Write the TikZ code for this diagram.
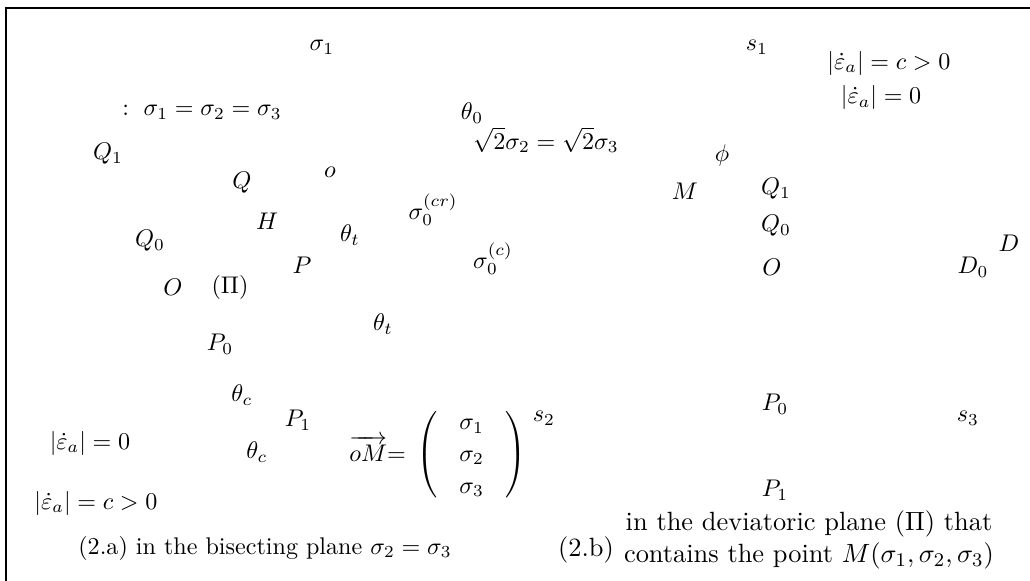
\documentclass[tikz,border=0pt]{standalone}
\usepackage{amsmath,amssymb}
\usetikzlibrary{positioning}

\begin{document}
\begin{tikzpicture}[x=0.415pt, y=-0.415pt, node distance=4pt, every node/.style={inner sep=0pt, font=\normalsize}]
    \useasboundingbox (0,0) rectangle (1030,580);
    % Rahmen (rechts und unten abgeschnitten)
    \draw[line width=0.8pt] (6,600) -- (6,8) -- (1040,8);

    % Bild (2.a): Winkelhalbierende Ebene
    \node (sigmaOne) at (322,47) {$\sigma_1$};
    \node (hydroAxis) at (202,112) {$:\ \sigma_1=\sigma_2=\sigma_3$};
    \node (thetaNull) at (472,113) {$\theta_0$};
    \node (sqrtLine) at (546,140) {$\sqrt{2}\sigma_2=\sqrt{2}\sigma_3$};
    \node (aQone) at (108,154) {$Q_1$};
    \node (aQ) at (242,183) {$Q$};
    \node (smallO) at (330,172) {$o$};
    \node (sigmaCr) at (433,210) {$\sigma_0^{(cr)}$};
    \node (aH) at (267,221) {$H$};
    \node (thetaTa) at (350,235) {$\theta_t$};
    \node (aQnull) at (150,241) {$Q_0$};
    \node (sigmaC) at (493,259) {$\sigma_0^{(c)}$};
    \node (aP) at (302,265) {$P$};
    \node (aO) at (173,287) {$O$};
    \node (piPlane) at (230,287) {$(\Pi)$};
    \node (thetaTb) at (383,324) {$\theta_t$};
    \node (aPnull) at (220,344) {$P_0$};
    \node (thetaCa) at (242,395) {$\theta_c$};
    \node (aPone) at (298,420) {$P_1$};
    \node (aEpsZero) at (90,443) {$|\dot{\varepsilon}_a|=0$};
    \node (thetaCb) at (257,452) {$\theta_c$};
    \node (vecOM) at (438,455) {$\overrightarrow{oM}{=}\;\left(\arraycolsep=9pt\def\arraystretch{1.1}\begin{array}{c}\sigma_1\\ \sigma_2\\ \sigma_3\end{array}\right)$};
    \node (sTwo) at (544,418) {$s_2$};
    \node (aEpsC) at (96,503) {$|\dot{\varepsilon}_a|=c>0$};
    \node (capA) at (265,548) {(2.a) in the bisecting plane $\sigma_2=\sigma_3$};

    % Bild (2.b): Deviatorische Ebene
    \node (sOne) at (757,47) {$s_1$};
    \node (bEpsC) at (889,63) {$|\dot{\varepsilon}_a|=c>0$};
    \node[below=4pt of bEpsC, xshift=-3.3pt] (bEpsZero) {$|\dot{\varepsilon}_a|=0$};
    \node (bPhi) at (722,155) {$\phi$};
    \node (bM) at (685,191) {$M$};
    \node (bQone) at (776,189) {$Q_1$};
    \node (bQnull) at (776,226) {$Q_0$};
    \node (bO) at (772,267) {$O$};
    \node (bDnull) at (973,267) {$D_0$};
    \node (bD) at (1009,243) {$D$};
    \node (bPnull) at (775,404) {$P_0$};
    \node (sThree) at (968,418) {$s_3$};
    \node (bPone) at (775,490) {$P_1$};
    \node[font={\fontsize{10.95}{13.6}\selectfont}] (capB) at (586,550) {(2.b)};
    \node[align=center, font={\fontsize{10.95}{13.6}\selectfont}] (capBtext) at (809,540) {in the deviatoric plane $(\Pi)$ that\\ contains the point $M(\sigma_1,\sigma_2,\sigma_3)$};
\end{tikzpicture}
\end{document}
